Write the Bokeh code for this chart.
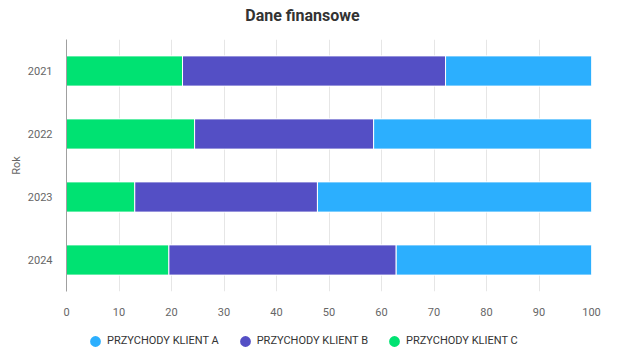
from bokeh.plotting import figure
from bokeh.layouts import column
from bokeh.models import (FactorRange, Range1d, FixedTicker, Legend, LegendItem,
                          ColumnDataSource, Label)
from bokeh.embed import file_html
from bokeh.resources import INLINE

# ---- data ----
years = ["2021", "2022", "2023", "2024"]
klient_a = [27.8, 41.5, 52.2, 37.2]
klient_b = [50.1, 34.1, 34.8, 43.3]
klient_c = [22.1, 24.4, 13.0, 19.5]
series_names = ["PRZYCHODY KLIENT A", "PRZYCHODY KLIENT B", "PRZYCHODY KLIENT C"]
x_ticks = [0, 10, 20, 30, 40, 50, 60, 70, 80, 90, 100]
title_text = "Dane finansowe"
y_label = "Rok"

colors = {"A": "#2caffe", "B": "#544fc5", "C": "#00e272"}

source = ColumnDataSource(dict(year=years, A=klient_a, B=klient_b, C=klient_c))

# ---- title strip ----
tp = figure(width=619, height=39, x_range=Range1d(0, 1), y_range=Range1d(0, 1),
            output_backend="svg", toolbar_location=None, min_border=0,
            x_axis_location=None, y_axis_location=None, title=None)
tp.grid.visible = False
tp.outline_line_color = None
tp.add_layout(Label(x=236, y=24, x_units="screen", y_units="screen",
                    text=title_text, text_align="center", text_baseline="middle",
                    text_font="Roboto", text_font_size="16px",
                    text_font_style="bold", text_color="#333333"))

# ---- main chart ----
p = figure(width=619, height=282,
           y_range=FactorRange(factors=years[::-1]),
           x_range=Range1d(0, 100), title=None,
           output_backend="svg", toolbar_location=None,
           min_border_left=66, min_border_right=28,
           min_border_top=0, min_border_bottom=30)

p.hbar_stack(["C", "B", "A"], y="year", height=0.48,
             color=[colors["C"], colors["B"], colors["A"]],
             line_color="white", line_width=1, source=source)

# x axis
p.xaxis.ticker = FixedTicker(ticks=x_ticks)
p.xaxis.axis_line_color = None
p.xaxis.major_tick_line_color = None
p.xaxis.minor_tick_line_color = None
p.xaxis.major_tick_out = 0
p.xaxis.major_tick_in = 0
p.xaxis.major_label_standoff = 16
p.xaxis.major_label_text_font = "Roboto"
p.xaxis.major_label_text_font_size = "11px"
p.xaxis.major_label_text_color = "#666666"

# y axis
p.yaxis.axis_line_color = "#a0a0a0"
p.yaxis.major_tick_line_color = None
p.yaxis.minor_tick_line_color = None
p.yaxis.major_tick_out = 0
p.yaxis.major_tick_in = 0
p.yaxis.major_label_standoff = 14
p.yaxis.major_label_text_font = "Roboto"
p.yaxis.major_label_text_font_size = "11px"
p.yaxis.major_label_text_color = "#666666"
p.yaxis.axis_label = y_label
p.yaxis.axis_label_standoff = 2
p.yaxis.axis_label_text_font = "Roboto"
p.yaxis.axis_label_text_font_size = "11px"
p.yaxis.axis_label_text_font_style = "normal"
p.yaxis.axis_label_text_color = "#666666"

p.ygrid.grid_line_color = None
p.xgrid.grid_line_color = "#e6e6e6"
p.outline_line_color = None

# ---- legend strip ----
lp = figure(width=619, height=35, x_range=Range1d(0, 1), y_range=Range1d(0, 1),
            output_backend="svg", toolbar_location=None, min_border=0,
            x_axis_location=None, y_axis_location=None, title=None)
lp.grid.visible = False
lp.outline_line_color = None

items = []
for key, name in zip(["A", "B", "C"], series_names):
    # legend proxies: fed from the data columns, they fall outside this strip's view
    r = lp.scatter(x=key, y=key, source=source, marker="circle", size=5,
                   color=colors[key], line_width=6)
    items.append(LegendItem(label=name, renderers=[r]))

legend = Legend(items=items, orientation="horizontal", location=(17, 9),
                padding=0, margin=0, spacing=14, glyph_width=24, glyph_height=12,
                label_height=12, label_standoff=0, label_text_font="Roboto",
                label_text_font_size="11px", label_text_color="#333333",
                border_line_color=None, background_fill_alpha=0)
lp.add_layout(legend, "center")

layout = column(tp, p, lp, spacing=0)

open("out.html", "w").write(file_html(layout, INLINE))
